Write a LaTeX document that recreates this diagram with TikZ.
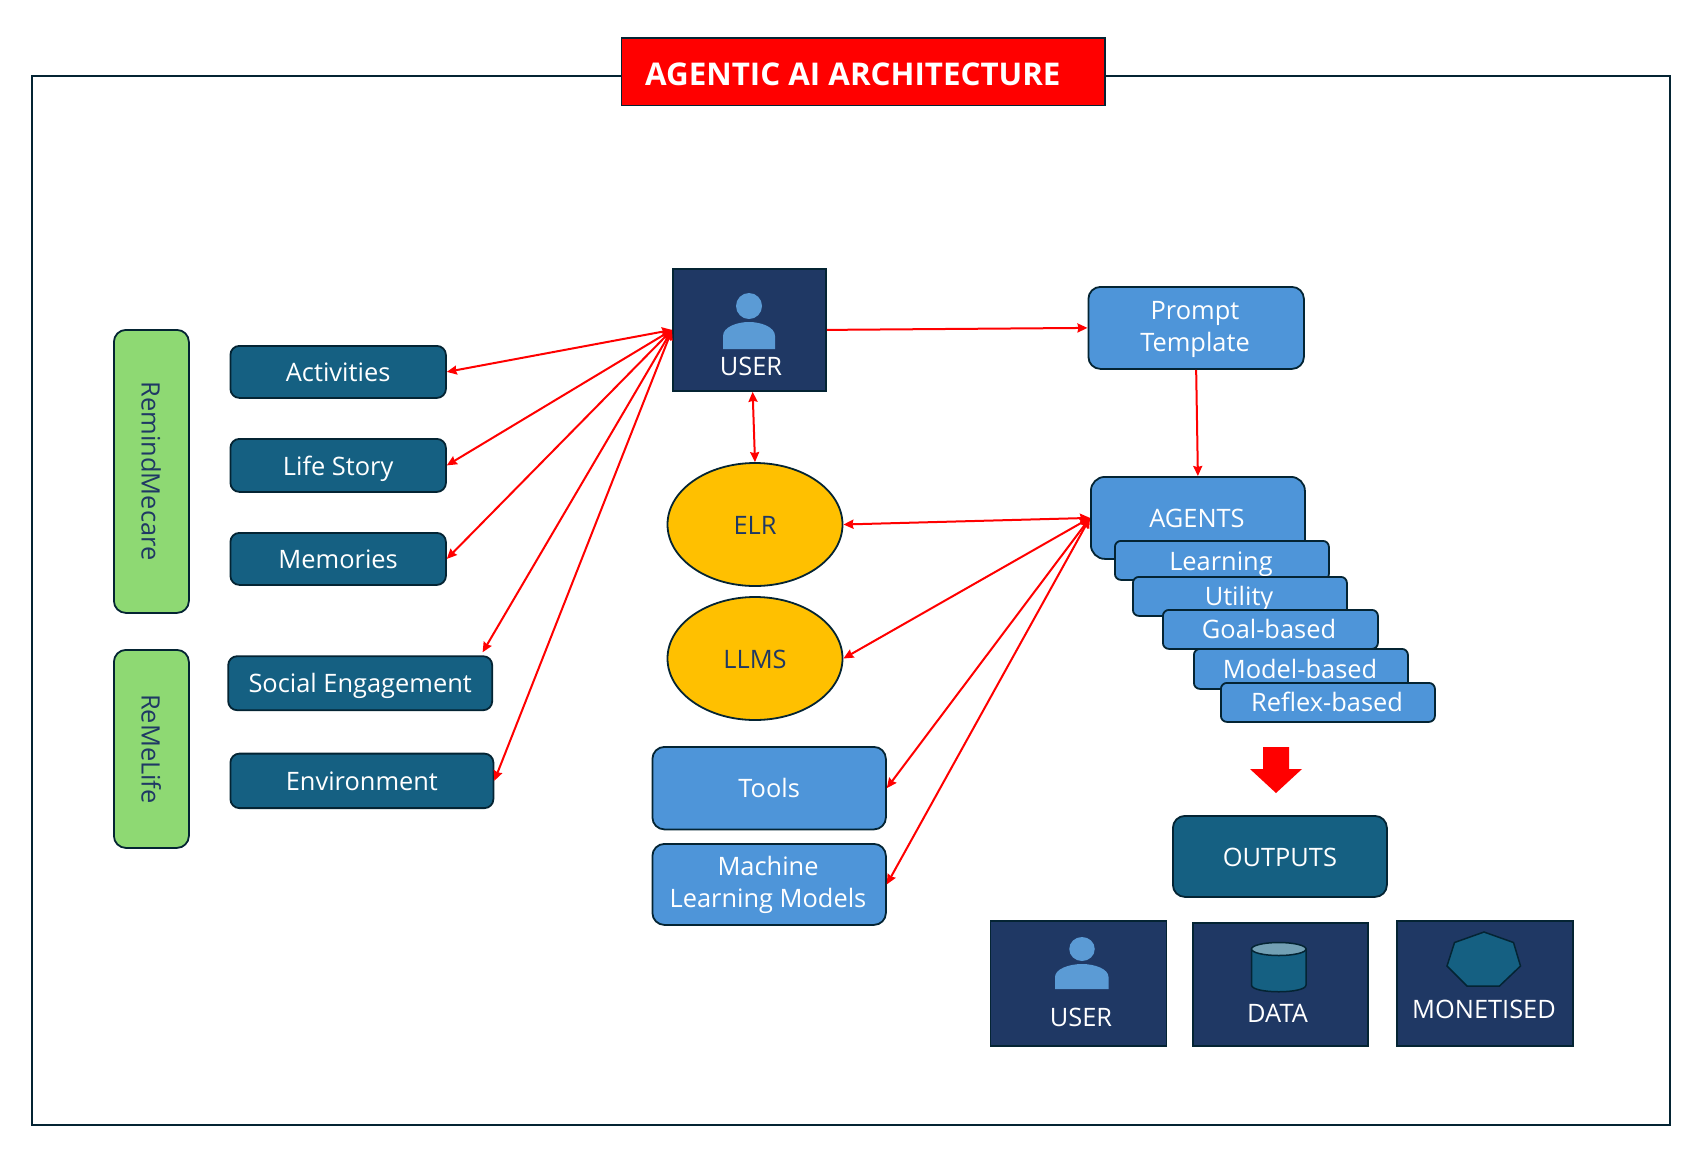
\documentclass[tikz,border=0pt]{standalone}
\usepackage{fontspec}
\setmainfont{Open Sans}
\usetikzlibrary{arrows.meta,shapes.geometric}
\definecolor{edge}{HTML}{042433}
\definecolor{teal}{HTML}{156082}
\definecolor{sky}{HTML}{4E95D9}
\definecolor{navy}{HTML}{1F3864}
\definecolor{leaf}{HTML}{8ED973}
\definecolor{gold}{HTML}{FFC000}
\definecolor{pers}{HTML}{5B9BD5}
\definecolor{cyltop}{HTML}{73A0B4}
\tikzset{
 x=1pt,y=-1pt,
 txt/.style={inner sep=0pt,font=\fontsize{25.4}{32.5}\selectfont,text height=24pt,text depth=4.5pt},
 box/.style={txt,draw=edge,line width=1.8pt,rounded corners=9pt,text=white,anchor=north west},
 tealbox/.style={box,fill=teal},
 skybox/.style={box,fill=sky,rounded corners=12pt},
 subbox/.style={box,fill=sky,rounded corners=6pt},
 greenbox/.style={box,fill=leaf,rounded corners=12pt},
 panel/.style={draw=edge,line width=1.8pt,fill=navy,inner sep=0pt,anchor=north west},
 oval/.style={txt,ellipse,draw=edge,line width=1.8pt,fill=gold,text=navy},
 lab/.style={txt,text=white},
 lab2/.style={inner sep=0pt,text=white,align=center,font=\fontsize{25.4}{32.5}\selectfont},
 side/.style={inner sep=0pt,font=\fontsize{25.4}{32.5}\selectfont,text=navy,rotate=-90,text height=22pt,text depth=5.4pt},
 tipa/.tip={Stealth[length=10pt,width=9pt,inset=1pt]},
 one/.style={draw=red,line width=2pt,-tipa},
 two/.style={draw=red,line width=2pt,tipa-tipa},
 icon/.style={draw=edge,line width=1.5pt,fill=teal},
}
\begin{document}
\begin{tikzpicture}
\useasboundingbox (0,0) rectangle (1705,1163);
\node[draw=edge,line width=1.8pt,inner sep=0pt,minimum width=1638pt,minimum height=1049pt,anchor=north west] (frame) at (31,75) {};
\node[panel,fill=red,minimum width=483.5pt,minimum height=67.5pt] (title) at (620.5,37) {};
\node[text=white,inner sep=0pt,anchor=west,font=\fontsize{31.3}{36}\selectfont\bfseries] (titletext) at (645,74) {AGENTIC AI ARCHITECTURE};

% left column
\node[greenbox,minimum width=75pt,minimum height=283pt] (rmc) at (113,329) {};
\node[side] (rmct) at (150,471) {RemindMecare};
\node[greenbox,minimum width=75pt,minimum height=198pt] (rml) at (113,649) {};
\node[side] (rmlt) at (150,749) {ReMeLife};
\node[tealbox,minimum width=215.5pt,minimum height=52pt] (act) at (229.5,345) {Activities};
\node[tealbox,minimum width=215.5pt,minimum height=53pt] (life) at (229.5,438) {Life Story};
\node[tealbox,minimum width=215.5pt,minimum height=52pt] (mem) at (229.5,532) {Memories};
\node[tealbox,minimum width=264pt,minimum height=54pt] (soc) at (227.3,655.3) {Social Engagement};
\node[tealbox,minimum width=263pt,minimum height=54.5pt] (env) at (229.5,752.7) {Environment};

% user
\node[panel,minimum width=153pt,minimum height=122pt] (user) at (672,268) {};
\node[circle,fill=pers,inner sep=0pt,minimum size=26pt] (uh) at (749,306) {};
\path[fill=pers] (723,349) -- (723,336) .. controls (723,327) and (737,322) .. (749,322) .. controls (761,322) and (775,327) .. (775,336) -- (775,349) -- cycle;
\node[lab] (ut) at (751,365.7) {USER};

% centre
\node[oval,minimum width=175pt,minimum height=123pt] (elr) at (755,524.5) {ELR};
\node[oval,minimum width=175pt,minimum height=123pt] (llms) at (755,658.5) {LLMS};
\node[skybox,minimum width=233.5pt,minimum height=82.5pt] (tools) at (651.5,746) {Tools};
\node[skybox,minimum width=233.5pt,minimum height=81pt] (ml) at (651.5,843) {};
\node[lab2] (mlt) at (768,885) {Machine\\Learning Models};

% right
\node[skybox,minimum width=215.5pt,minimum height=82pt] (prompt) at (1087.5,286) {};
\node[lab2] (promptt) at (1195,329.5) {Prompt\\Template};
\node[skybox,rounded corners=14pt,minimum width=214pt,minimum height=82pt] (agents) at (1090,476) {};
\node[lab] (agt) at (1197,517.4) {AGENTS};
\node[subbox,minimum width=214pt,minimum height=39pt] (b1) at (1114,540) {};
\node[lab] (b1t) at (1221,560.4) {Learning};
\node[subbox,minimum width=214pt,minimum height=39pt] (b2) at (1132,576) {};
\node[lab] (b2t) at (1239,596) {Utility};
\node[subbox,minimum width=215pt,minimum height=39pt] (b3) at (1162,609) {};
\node[lab] (b3t) at (1269,628.4) {Goal-based};
\node[subbox,minimum width=214pt,minimum height=40pt] (b4) at (1193,648) {};
\node[lab] (b4t) at (1300,668.4) {Model-based};
\node[subbox,minimum width=214pt,minimum height=39pt] (b5) at (1220,682) {};
\node[lab] (b5t) at (1327,701.7) {Reflex-based};
\fill[red] (1263,747) -- (1289,747) -- (1289,769) -- (1302,769) -- (1276,793) -- (1250,769) -- (1263,769) -- cycle;
\node[tealbox,rounded corners=12pt,minimum width=214pt,minimum height=81pt] (out) at (1172,815) {OUTPUTS};

% bottom panels
\node[panel,minimum width=176pt,minimum height=125pt] (p1) at (989.5,920) {};
\node[ellipse,fill=pers,inner sep=0pt,minimum width=25.5pt,minimum height=24pt] (p1h) at (1082,949) {};
\path[fill=pers] (1055,989) -- (1055,977) .. controls (1055,969) and (1069,964) .. (1082,964) .. controls (1095,964) and (1108.5,969) .. (1108.5,977) -- (1108.5,989) -- cycle;
\node[lab] (p1t) at (1081,1017) {USER};
\node[panel,minimum width=175pt,minimum height=123pt] (p2) at (1192,922) {};
\path[icon] (1251.5,949) -- (1251.5,985) .. controls (1251.5,994) and (1306,994) .. (1306,985) -- (1306,949) -- cycle;
\path[icon,fill=cyltop] (1278.75,949) ellipse[x radius=27.25,y radius=6.5];
\node[lab] (p2t) at (1277.5,1012.4) {DATA};
\node[panel,minimum width=176pt,minimum height=125pt] (p3) at (1396,920) {};
\path[icon] (1484,932) -- (1513.5,942.5) -- (1520.5,966) -- (1499.5,986) -- (1467,986) -- (1447,966) -- (1454.5,942.5) -- cycle;
\node[lab] (p3t) at (1484,1009) {MONETISED};

% connectors
\draw[two] (user.west) -- (act.east);
\draw[two] (user.west) -- (life.east);
\draw[two] (user.west) -- (mem.east);
\draw[two] (user.west) -- ([xshift=-10.5pt,yshift=3pt]soc.north east);
\draw[two] (user.west) -- (env.east);
\draw[one] (user.east) -- (prompt.west);
\draw[one] (prompt.south) -- (agents.north);
\draw[two] (user.-87) -- (elr.north);
\draw[two] (elr.east) -- (agents.west);
\draw[two] (llms.east) -- (agents.west);
\draw[two] (tools.east) -- (agents.west);
\draw[two] (ml.east) -- (agents.west);
\end{tikzpicture}
\end{document}
